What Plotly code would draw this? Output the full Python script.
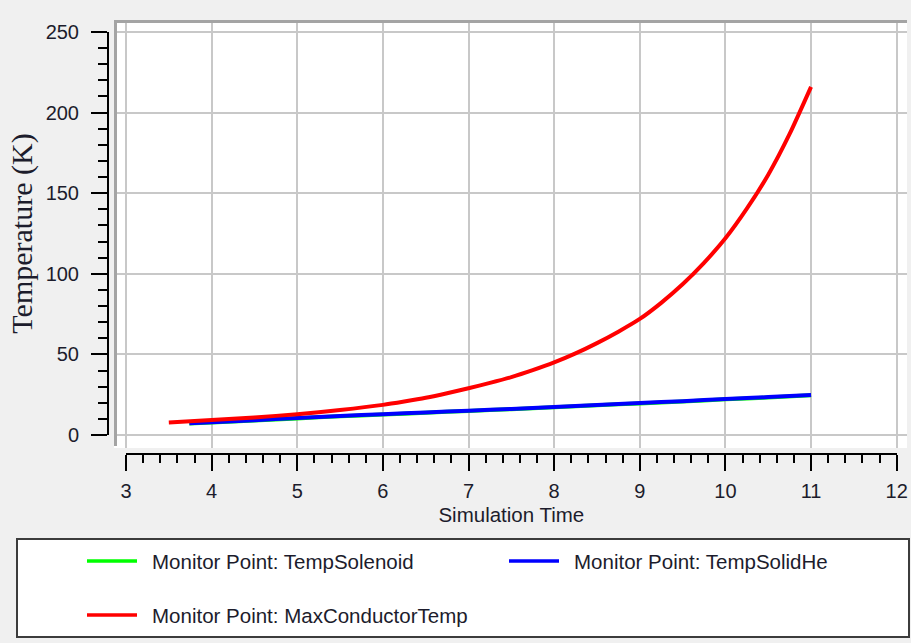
import plotly.graph_objects as go

# ---- data -------------------------------------------------------------
series_names = [
    "Monitor Point: TempSolenoid",
    "Monitor Point: TempSolidHe",
    "Monitor Point: MaxConductorTemp",
]
series_colors = ["#00ff00", "#0000ff", "#ff0000"]

time_solenoid = [3.74, 4.0, 4.5, 5.0, 5.5, 6.0, 6.5, 7.0, 7.5, 8.0, 8.5, 9.0, 9.5, 10.0, 10.5, 11.0]
temp_solenoid = [7.2, 7.7, 9.0, 10.3, 11.6, 12.7, 13.8, 14.9, 16.0, 17.2, 18.4, 19.6, 20.8, 22.1, 23.3, 24.6]

time_solid_he = [3.74, 4.0, 4.5, 5.0, 5.5, 6.0, 6.5, 7.0, 7.5, 8.0, 8.5, 9.0, 9.5, 10.0, 10.5, 11.0]
temp_solid_he = [7.3, 7.9, 9.2, 10.5, 11.8, 12.9, 14.0, 15.1, 16.2, 17.4, 18.6, 19.8, 21.0, 22.3, 23.5, 24.8]

time_conductor = [3.5, 4.0, 4.5, 5.0, 5.5, 6.0, 6.25, 6.5, 6.75, 7.0, 7.25, 7.5, 7.75, 8.0,
                  8.25, 8.5, 8.75, 9.0, 9.25, 9.5, 9.75, 10.0, 10.25, 10.5, 10.75, 11.0]
temp_conductor = [7.7, 9.3, 10.9, 12.9, 15.5, 18.7, 20.8, 23.1, 25.9, 29.0, 32.3, 35.9, 40.2, 45.0,
                  50.6, 57.0, 64.1, 72.0, 82.0, 93.5, 106.8, 122.0, 140.4, 161.5, 186.8, 216.0]

x_ticks = [3, 4, 5, 6, 7, 8, 9, 10, 11, 12]
y_ticks = [0, 50, 100, 150, 200, 250]

x_title = "Simulation Time"
y_title = "Temperature (K)"

# ---- layout helpers (pixel -> paper fraction) ------------------------
W, H = 911, 643


def fx(p):
    return p / W


def fy(p):
    return 1 - p / H


SANS = "Liberation Sans, Arial, sans-serif"
SERIF = "Liberation Serif, Times New Roman, serif"
TEXT = "#1c1c2c"
GRID = "#c8c8c8"

fig = go.Figure()

series = [
    (time_solenoid, temp_solenoid),
    (time_solid_he, temp_solid_he),
    (time_conductor, temp_conductor),
]
for (tx, ty), name, color in zip(series, series_names, series_colors):
    fig.add_trace(go.Scatter(
        x=tx, y=ty, mode="lines", name=name,
        line=dict(color=color, width=4, shape="spline", smoothing=0.6),
        showlegend=False,
    ))

# empty trace that carries the detached tick axes
fig.add_trace(go.Scatter(x=[None], y=[None], xaxis="x2", yaxis="y2",
                         showlegend=False, hoverinfo="skip"))

# plot window extent in data units (a bit wider than the tick axes)
x_win = [3 - 12 / 85.63, 3 + (907 - 126) / 85.63]
y_win = [-(448 - 435) / 1.612, (435 - 20) / 1.612]

fig.update_layout(
    width=W, height=H,
    margin=dict(l=0, r=0, t=0, b=0, autoexpand=False),
    paper_bgcolor="#f0f0f0",
    plot_bgcolor="rgba(0,0,0,0)",
    font=dict(family=SANS, size=20, color=TEXT),
    xaxis=dict(
        domain=[fx(114), fx(907)], range=x_win, automargin=False,
        tickmode="array", tickvals=x_ticks, showticklabels=False,
        showgrid=True, gridcolor=GRID, gridwidth=2,
        zeroline=False, showline=False, ticks="",
    ),
    yaxis=dict(
        domain=[fy(448), fy(20)], range=y_win, automargin=False,
        tickmode="array", tickvals=y_ticks, showticklabels=False,
        showgrid=True, gridcolor=GRID, gridwidth=2,
        zeroline=False, showline=False, ticks="",
    ),
    xaxis2=dict(
        domain=[fx(126), fx(896.7)], range=[3, 12], automargin=False,
        anchor="free", position=fy(454), side="bottom",
        tickmode="array", tickvals=x_ticks,
        showline=True, linecolor="#000000", linewidth=2,
        ticks="outside", ticklen=16, tickwidth=2, tickcolor="#000000",
        minor=dict(dtick=0.2, tick0=3, ticks="outside", ticklen=8,
                   tickwidth=2, tickcolor="#000000", showgrid=False),
        showgrid=False, zeroline=False,
        tickfont=dict(family=SANS, size=20, color=TEXT),
        ticklabelstandoff=3,
        title=dict(text=x_title, font=dict(family=SANS, size=20.5, color=TEXT),
                   standoff=6),
    ),
    yaxis2=dict(
        domain=[fy(435), fy(32)], range=[0, 250], automargin=False,
        anchor="free", position=fx(108), side="left",
        tickmode="array", tickvals=y_ticks,
        showline=True, linecolor="#000000", linewidth=2,
        ticks="outside", ticklen=16, tickwidth=2, tickcolor="#000000",
        minor=dict(dtick=10, tick0=0, ticks="outside", ticklen=9,
                   tickwidth=2, tickcolor="#000000", showgrid=False),
        showgrid=False, zeroline=False,
        tickfont=dict(family=SANS, size=20, color=TEXT),
        ticklabelstandoff=8,
        title=dict(text=y_title, font=dict(family=SERIF, size=30, color=TEXT),
                   standoff=3),
    ),
)

shapes = [
    # white plotting window
    dict(type="rect", xref="paper", yref="paper", layer="below",
         x0=fx(114), x1=fx(907), y0=fy(448), y1=fy(20),
         fillcolor="#ffffff", line=dict(width=0)),
    # raised frame on the top and left edges of the window
    dict(type="line", xref="paper", yref="paper", layer="above",
         x0=fx(114), x1=fx(907), y0=fy(21.5), y1=fy(21.5),
         line=dict(color="#a4a4a4", width=3)),
    dict(type="line", xref="paper", yref="paper", layer="above",
         x0=fx(115.5), x1=fx(115.5), y0=fy(20), y1=fy(446),
         line=dict(color="#a4a4a4", width=3)),
    # legend box
    dict(type="rect", xref="paper", yref="paper", layer="above",
         x0=fx(17), x1=fx(909), y0=fy(637), y1=fy(539),
         fillcolor="#ffffff", line=dict(color="#3c3c3c", width=2)),
]

# legend entries: (sample x start, row y)
legend_slots = [(87, 561), (509, 561), (87, 615)]
annotations = []
for (sx, sy), name, color in zip(legend_slots, series_names, series_colors):
    shapes.append(dict(type="line", xref="paper", yref="paper", layer="above",
                       x0=fx(sx), x1=fx(sx + 50), y0=fy(sy), y1=fy(sy),
                       line=dict(color=color, width=3.5)))
    annotations.append(dict(xref="paper", yref="paper", x=fx(sx + 63), y=fy(sy),
                            xanchor="left", yanchor="middle", showarrow=False,
                            text=name, font=dict(family=SANS, size=20.5, color=TEXT)))

fig.update_layout(shapes=shapes, annotations=annotations)

fig.write_html("out.html")
